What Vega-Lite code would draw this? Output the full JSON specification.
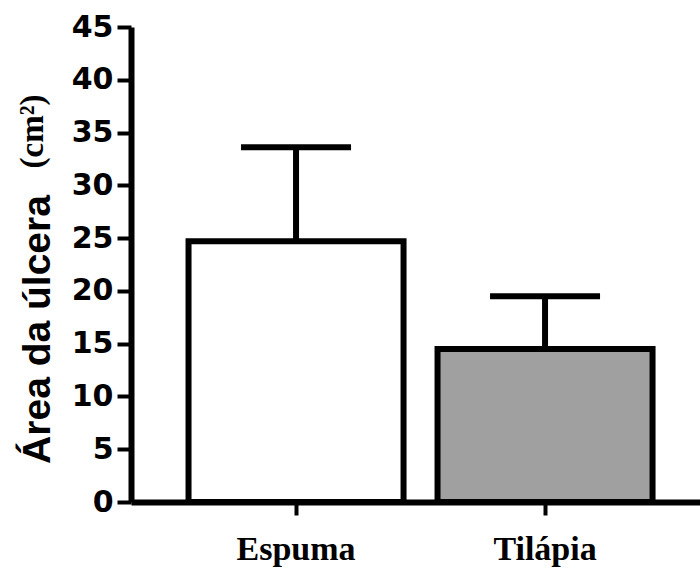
{
  "$schema": "https://vega.github.io/schema/vega-lite/v6.json",
  "width": 569,
  "height": 475,
  "autosize": {"type": "none"},
  "padding": {"left": 131, "top": 27, "right": 0, "bottom": 68},
  "background": "white",
  "config": {"view": {"stroke": null}},
  "data": {"values": [
    {"group": "Espuma", "mean": 24.7, "upper": 33.6},
    {"group": "Tilápia", "mean": 14.5, "upper": 19.5}
  ]},
  "encoding": {
    "x": {
      "field": "group", "type": "nominal", "sort": null,
      "scale": {"paddingInner": 0.1365, "paddingOuter": 0.2108, "align": 0.548},
      "axis": {
        "title": null, "labelAngle": 0,
        "labelFont": "Liberation Serif", "labelFontWeight": "bold", "labelFontSize": 34,
        "labelColor": "black", "labelPadding": 17,
        "domainColor": "black", "domainWidth": 6,
        "tickColor": "black", "tickWidth": 4, "tickSize": 13,
        "grid": false
      }
    }
  },
  "layer": [
    {
      "mark": {"type": "bar", "stroke": "black", "strokeWidth": 6},
      "encoding": {
        "y": {
          "field": "mean", "type": "quantitative",
          "scale": {"domain": [0, 45], "nice": false, "zero": true},
          "axis": {
            "values": [0, 5, 10, 15, 20, 25, 30, 35, 40, 45],
            "grid": false,
            "labelFont": "DejaVu Sans", "labelFontWeight": "bold", "labelFontSize": 30,
            "labelColor": "black", "labelPadding": 4,
            "domainColor": "black", "domainWidth": 6,
            "tickColor": "black", "tickWidth": 4, "tickSize": 14,
            "title": "Área da úlcera",
            "titleFont": "Liberation Sans", "titleFontWeight": "bold", "titleFontSize": 39,
            "titleColor": "black", "titleAngle": 270, "titleAlign": "center",
            "titleBaseline": "alphabetic", "titleX": -82, "titleY": 302
          }
        },
        "fill": {
          "field": "group", "type": "nominal",
          "scale": {"domain": ["Espuma", "Tilápia"], "range": ["#ffffff", "#a0a0a0"]},
          "legend": null
        }
      }
    },
    {
      "mark": {"type": "rule", "color": "black", "strokeWidth": 6},
      "encoding": {
        "y": {
          "field": "mean", "type": "quantitative",
          "scale": {"domain": [0, 45], "nice": false},
          "axis": {
            "orient": "left", "labels": false, "ticks": false, "domain": false, "grid": false,
            "title": "(cm²)",
            "titleFont": "Liberation Serif", "titleFontWeight": "bold", "titleFontSize": 33,
            "titleColor": "black", "titleAngle": 270, "titleAlign": "center",
            "titleBaseline": "alphabetic", "titleX": -89, "titleY": 104
          }
        },
        "y2": {"field": "upper"}
      }
    },
    {
      "mark": {"type": "tick", "color": "black", "opacity": 1, "thickness": 6, "size": 110},
      "encoding": {
        "y": {
          "field": "upper", "type": "quantitative",
          "scale": {"domain": [0, 45], "nice": false},
          "axis": null
        }
      }
    }
  ],
  "resolve": {"scale": {"y": "independent"}, "axis": {"y": "independent"}}
}
